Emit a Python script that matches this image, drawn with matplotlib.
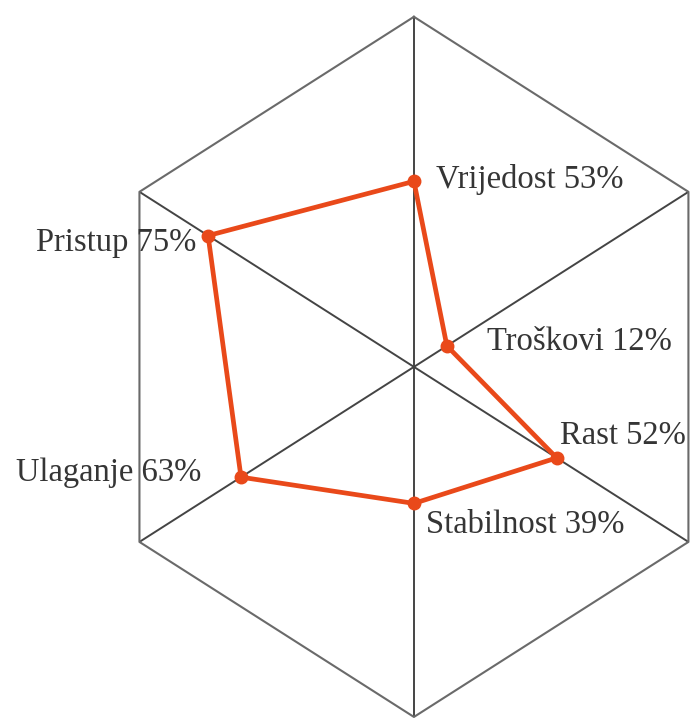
import numpy as np
import matplotlib
matplotlib.use("Agg")
import matplotlib.pyplot as plt

# Data (clockwise from top)
categories = ["Vrijedost", "Troškovi", "Rast", "Stabilnost", "Ulaganje", "Pristup"]
values = [53, 12, 52, 39, 63, 75]
r_max = 100

# label placement (pixel offsets from point) and alignment
label_offsets = [(22, -7), (40, -4), (3, 14), (12, -30), (-40, -4), (-12, -15)]
label_ha = ["left", "left", "left", "left", "right", "right"]

plt.rcParams['font.family'] = ['Liberation Serif', 'DejaVu Serif']

fig = plt.figure(figsize=(6.9, 7.18), dpi=100)
ax = fig.add_axes([0, 0, 1, 1])
ax.set_xlim(-1.306, 0.871)
ax.set_ylim(-1.003, 1.048)
ax.axis('off')

n = len(categories)
theta = np.arange(n) * 2 * np.pi / n  # 0 = top, clockwise
vx = np.sin(theta)
vy = np.cos(theta)

# spokes
for i in range(n):
    ax.plot([0, vx[i]], [0, vy[i]], color='#444444', lw=1.4, solid_capstyle='butt', zorder=1)
# hexagon outline
ax.plot(np.append(vx, vx[0]), np.append(vy, vy[0]), color='#6a6a6a', lw=1.5, zorder=1, clip_on=False)

r = np.array(values) / r_max
px = r * vx
py = r * vy
color = '#E9491A'
ax.plot(np.append(px, px[0]), np.append(py, py[0]), color=color, lw=3.4, zorder=3,
        solid_joinstyle='round')
ax.plot(px, py, 'o', color=color, ms=9, zorder=4)

for i in range(n):
    ax.annotate(f"{categories[i]} {values[i]}%", (px[i], py[i]),
                xytext=label_offsets[i], textcoords='offset pixels',
                ha=label_ha[i], va='baseline', fontsize=23.5, color='#353535', zorder=5)

fig.savefig("out.png", dpi=100)
